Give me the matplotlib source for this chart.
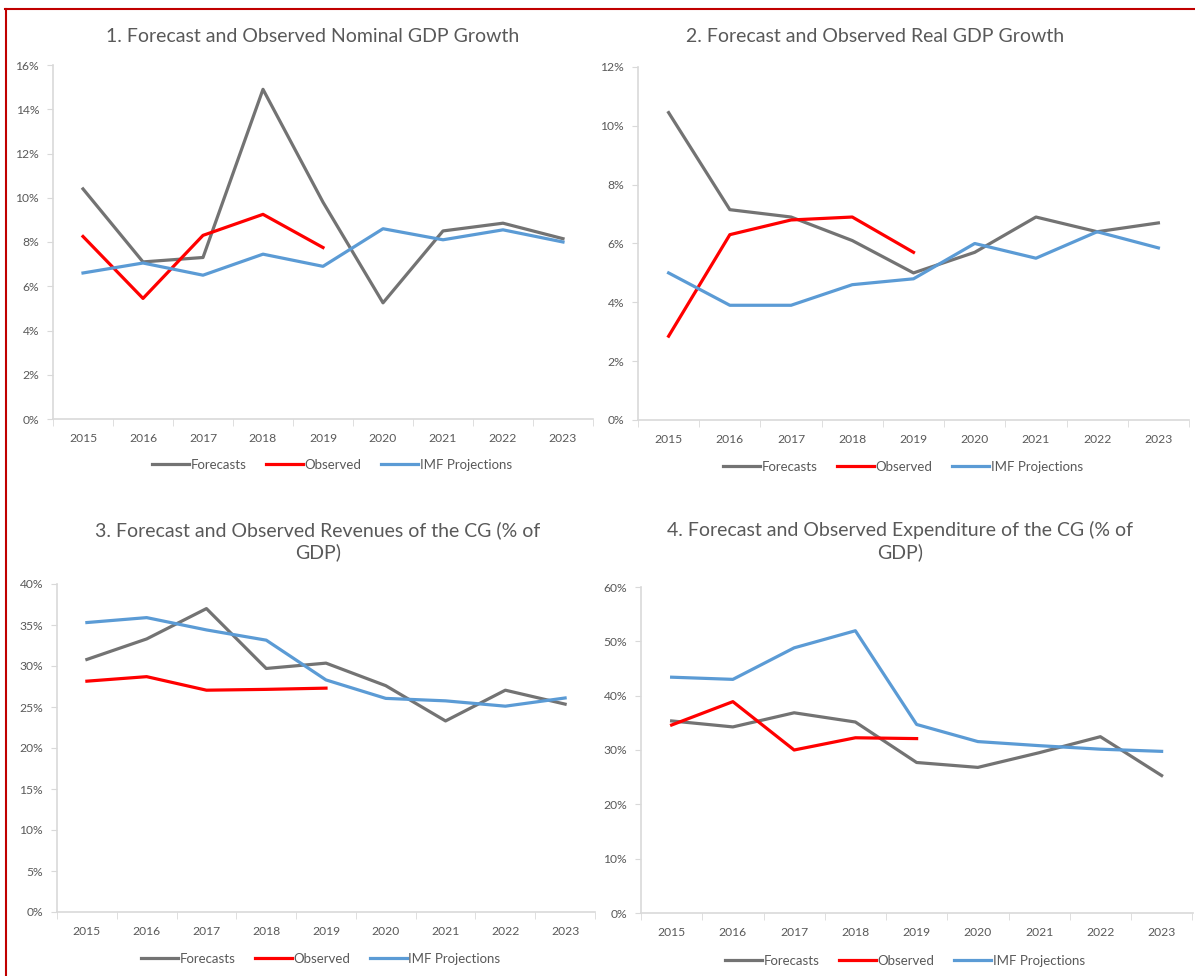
import numpy as np
import matplotlib
matplotlib.use("Agg")
from matplotlib import pyplot as plt
from matplotlib.lines import Line2D

plt.rcParams['font.family'] = ['Lato', 'DejaVu Sans']

years = ['2015', '2016', '2017', '2018', '2019', '2020', '2021', '2022', '2023']

# 1. nominal GDP growth (%)
nom_fc = [10.4, 7.1, 7.3, 14.9, 9.8, 5.25, 8.5, 8.85, 8.15]
nom_obs = [8.25, 5.45, 8.3, 9.25, 7.75]
nom_imf = [6.6, 7.05, 6.5, 7.45, 6.9, 8.6, 8.1, 8.55, 8.0]

# 2. real GDP growth (%)
real_fc = [10.45, 7.15, 6.9, 6.1, 5.0, 5.7, 6.9, 6.4, 6.7]
real_obs = [2.85, 6.3, 6.8, 6.9, 5.7]
real_imf = [5.0, 3.9, 3.9, 4.6, 4.8, 6.0, 5.5, 6.4, 5.85]

# 3. revenues of the CG (% of GDP)
rev_fc = [30.8, 33.3, 37.0, 29.7, 30.35, 27.6, 23.3, 27.05, 25.35]
rev_obs = [28.15, 28.7, 27.05, 27.15, 27.3]
rev_imf = [35.3, 35.9, 34.4, 33.15, 28.3, 26.05, 25.75, 25.1, 26.1]

# 4. expenditure of the CG (% of GDP)
exp_fc = [35.35, 34.25, 36.85, 35.15, 27.7, 26.8, 29.5, 32.45, 25.3]
exp_obs = [34.6, 38.9, 30.0, 32.25, 32.1]
exp_imf = [43.4, 43.0, 48.8, 51.95, 34.7, 31.55, 30.8, 30.15, 29.75]

titles = ['1. Forecast and Observed Nominal GDP Growth',
          '2. Forecast and Observed Real GDP Growth',
          '3. Forecast and Observed Revenues of the CG (% of\nGDP)',
          '4. Forecast and Observed Expenditure of the CG (% of\nGDP)']
labels = ['Forecasts', 'Observed', 'IMF Projections']
colors = ['#737373', '#ff0000', '#5b9bd5']
txt = '#595959'
axcol = '#d9d9d9'

W, H = 1195, 976
fig = plt.figure(figsize=(W / 100, H / 100), dpi=100)

# panel boxes in pixels: left, right, top(ymax), bottom(0)
boxes = [(53, 593, 65, 419), (638, 1189, 67, 420),
         (57, 595, 584, 912), (641, 1193, 587, 913)]
ymaxs = [16, 12, 40, 60]
ysteps = [2, 2, 5, 10]
series = [(nom_fc, nom_obs, nom_imf), (real_fc, real_obs, real_imf),
          (rev_fc, rev_obs, rev_imf), (exp_fc, exp_obs, exp_imf)]
title_pos = [(313, 36), (875, 36), (318, 541), (900, 541)]
leg_pos = [(332, 465), (903, 467), (321, 959), (905, 961)]
catw = 61.25

for i in range(4):
    l, r, t, b = boxes[i]
    ax = fig.add_axes([l / W, 1 - b / H, (r - l) / W, (b - t) / H])
    x = np.arange(len(years))
    fc, obs, imf = series[i]
    ax.plot(x, fc, color=colors[0], lw=2.3, solid_joinstyle='round')
    ax.plot(x[:len(obs)], obs, color=colors[1], lw=2.3, solid_joinstyle='round')
    ax.plot(x, imf, color=colors[2], lw=2.3, solid_joinstyle='round')

    ax.set_xlim(-0.5, -0.5 + (r - l) / catw)
    ax.set_ylim(0, ymaxs[i])
    yt = np.arange(0, ymaxs[i] + 0.1, ysteps[i])
    ax.set_yticks(yt)
    ax.set_yticklabels(['%d%%' % v for v in yt])
    ax.set_xticks(x)
    ax.set_xticklabels(years)
    ax.set_xticks(np.arange(-0.5, 9.0, 1), minor=True)
    ax.tick_params(axis='x', which='major', length=0, pad=10, labelsize=8.7, labelcolor=txt)
    ax.tick_params(axis='x', which='minor', length=5, color=axcol, direction='out')
    ax.tick_params(axis='y', length=4, color=axcol, labelsize=8.7, labelcolor=txt, pad=6)
    for s in ['top', 'right']:
        ax.spines[s].set_visible(False)
    for s in ['left', 'bottom']:
        ax.spines[s].set_color(axcol)
        ax.spines[s].set_linewidth(1.2)
    ax.patch.set_alpha(0)

    tx, ty = title_pos[i]
    fig.text(tx / W, 1 - ty / H, titles[i], ha='center', va='center',
             fontsize=14, color=txt, linespacing=1.3)

    handles = [Line2D([], [], color=c, lw=2.3) for c in colors]
    lx, ly = leg_pos[i]
    fig.legend(handles, labels, loc='center', bbox_to_anchor=(lx / W, 1 - ly / H),
               ncol=3, frameon=False, fontsize=9.5, labelcolor=txt,
               handlelength=2.8, handletextpad=0.1, columnspacing=1.5)

# red frame around the figure block
fig.add_artist(Line2D([5 / W, 1], [1 - 9 / H, 1 - 9 / H], color='#c00000', lw=1.5))
fig.add_artist(Line2D([6 / W, 6 / W], [0, 1 - 9 / H], color='#c00000', lw=1.5))

plt.savefig('out.png', dpi=100)
